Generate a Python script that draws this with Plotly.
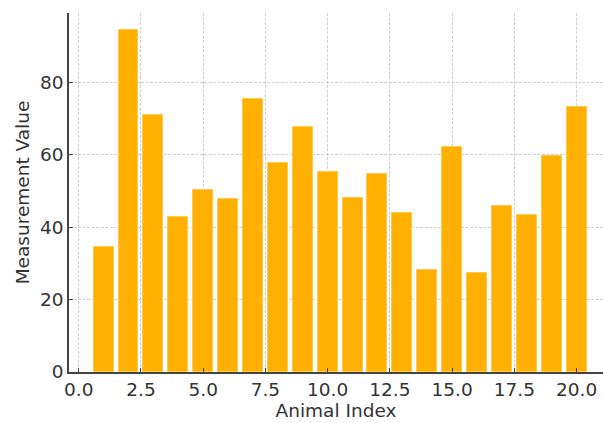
import plotly.graph_objects as go

animal_index = list(range(1, 21))
values = [34.6, 94.5, 71.1, 42.8, 50.2, 47.8, 75.4, 57.7, 67.7, 55.3,
          48.2, 54.8, 43.9, 28.1, 62.1, 27.4, 45.9, 43.3, 59.7, 73.3]
x_ticks = [0.0, 2.5, 5.0, 7.5, 10.0, 12.5, 15.0, 17.5, 20.0]
y_ticks = [0, 20, 40, 60, 80]

fig = go.Figure(go.Bar(
    x=animal_index, y=values, width=0.8,
    marker=dict(color="#FFB000", line=dict(color="#FFC94D", width=1)),
))

font = dict(family="DejaVu Sans", size=18.5, color="#333333")
fig.update_layout(
    width=603, height=423,
    margin=dict(l=69, r=0, t=13, b=51, autoexpand=False),
    plot_bgcolor="white", paper_bgcolor="white",
    font=font, showlegend=False, bargap=0,
)
grid = dict(showgrid=True, gridcolor="#d0d0d0", griddash="3px,1.5px", gridwidth=1,
            showline=True, linecolor="#444444", linewidth=1.5,
            ticks="inside", ticklen=4, tickcolor="#444444", tickwidth=1.2,
            zeroline=False, automargin=False)
fig.update_xaxes(
    range=[-0.39, 21.06], tickvals=x_ticks,
    ticktext=[f"{v:.1f}" for v in x_ticks],
    title=dict(text="Animal Index", font=dict(size=18.5, color="#333333"), standoff=4),
    **grid,
)
fig.update_yaxes(
    range=[0, 99.2], tickvals=y_ticks,
    title=dict(text="Measurement Value", font=dict(size=18.5, color="#333333"), standoff=6),
    **grid,
)
fig.write_html("out.html", config={"displayModeBar": False},
               post_script="document.body.style.margin='0';")
